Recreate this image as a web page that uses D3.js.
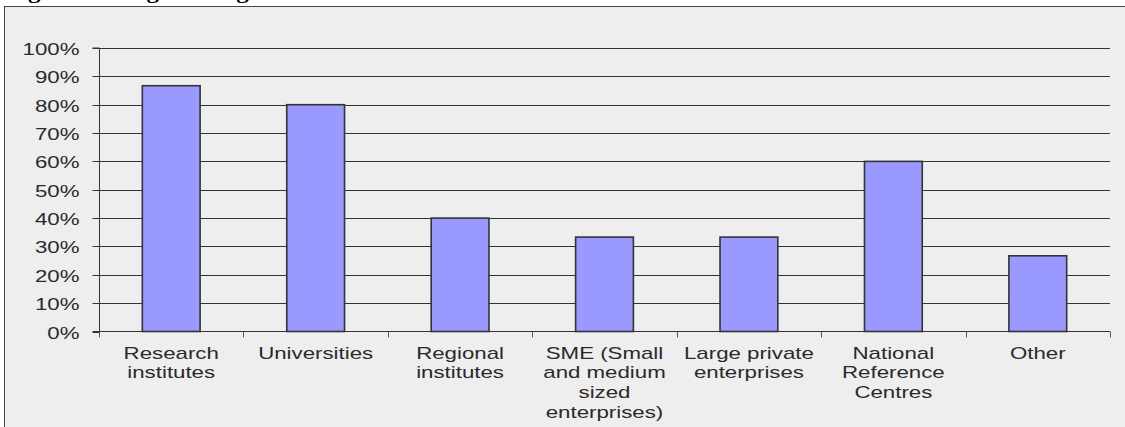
<!DOCTYPE html>
<html>
<head>
<meta charset="utf-8">
<script src="https://cdn.jsdelivr.net/npm/d3@7"></script>
<style>
  html, body { margin: 0; padding: 0; background: #ffffff; }
  svg { display: block; }
</style>
</head>
<body>
<div id="chart"></div>
<script>
// Share of responding organisations by type of origin
const categories = [
  "Research\ninstitutes",
  "Universities",
  "Regional\ninstitutes",
  "SME (Small\nand medium\nsized\nenterprises)",
  "Large private\nenterprises",
  "National\nReference\nCentres",
  "Other"
];
const shares = [0.867, 0.80, 0.40, 0.333, 0.333, 0.60, 0.267];
const yTicks = [0, 0.1, 0.2, 0.3, 0.4, 0.5, 0.6, 0.7, 0.8, 0.9, 1.0];
const captionText = "Figure 3: Origin of organisations";

const W = 1125, H = 427;
const plot = { left: 99, right: 1110, top: 48, bottom: 331.5 };
const stretch = 1.31;   // text is drawn horizontally widened
const font = "'Liberation Sans', Arial, Helvetica, sans-serif";

const svg = d3.select("#chart").append("svg")
  .attr("width", W).attr("height", H);

// caption above the frame (only its descenders fall inside the view)
svg.append("text")
  .attr("transform", `translate(6,-0.8) scale(${stretch},1)`)
  .attr("font-family", "'Liberation Serif', 'Times New Roman', serif")
  .attr("font-weight", "bold")
  .attr("font-size", 19)
  .attr("fill", "#000")
  .text(captionText);

// chart frame
svg.append("rect")
  .attr("x", 4.5).attr("y", 6.5)
  .attr("width", W + 10).attr("height", H + 10)
  .attr("fill", "#eeeeee")
  .attr("stroke", "#444").attr("stroke-width", 1);

const x = d3.scaleBand()
  .domain(categories)
  .range([plot.left, plot.right])
  .paddingInner(0.6)
  .paddingOuter(0.3);

const y = d3.scaleLinear().domain([0, 1]).range([plot.bottom, plot.top]);

// horizontal gridlines
svg.append("g")
  .selectAll("line")
  .data(yTicks.filter(d => d > 0))
  .join("line")
  .attr("x1", plot.left).attr("x2", plot.right)
  .attr("y1", d => Math.round(y(d)) + 0.5)
  .attr("y2", d => Math.round(y(d)) + 0.5)
  .attr("stroke", "#333").attr("stroke-width", 1);

// y axis
const yAxis = d3.axisLeft(y)
  .tickValues(yTicks)
  .tickFormat(d3.format(".0%"))
  .tickSize(7)
  .tickPadding(0)
  .offset(0);
const gy = svg.append("g")
  .attr("transform", `translate(${plot.left + 0.5},0)`)
  .call(yAxis);
gy.select(".domain").attr("stroke", "#333").attr("d", `M-7,${plot.top}H0V${plot.bottom}H-7`);
gy.selectAll(".tick line").attr("stroke", "#333");
gy.selectAll(".tick").attr("transform", d => `translate(0,${Math.round(y(d)) + 0.5})`);
gy.selectAll(".tick text")
  .attr("x", null).attr("dy", null)
  .attr("transform", `translate(-20,6) scale(${stretch},1)`)
  .attr("text-anchor", "end")
  .attr("font-family", font)
  .attr("font-size", 17)
  .attr("fill", "#2a2a2a");

// bars
svg.append("g")
  .selectAll("rect")
  .data(categories.map((c, i) => ({ c, v: shares[i] })))
  .join("rect")
  .attr("x", d => x(d.c))
  .attr("width", x.bandwidth())
  .attr("y", d => y(d.v))
  .attr("height", d => y(0) - y(d.v))
  .attr("fill", "#9999ff")
  .attr("stroke", "#333").attr("stroke-width", 1.6);

// x axis: baseline and category boundary ticks
const xb = d3.scaleLinear().domain([0, categories.length]).range([plot.left, plot.right]);
const gx = svg.append("g");
gx.append("line")
  .attr("x1", plot.left).attr("x2", plot.right)
  .attr("y1", plot.bottom).attr("y2", plot.bottom)
  .attr("stroke", "#333").attr("stroke-width", 1);
gx.selectAll("line.tick")
  .data(d3.range(categories.length + 1))
  .join("line")
  .attr("class", "tick")
  .attr("x1", d => Math.round(xb(d)) + 0.5).attr("x2", d => Math.round(xb(d)) + 0.5)
  .attr("y1", plot.bottom).attr("y2", plot.bottom + 6)
  .attr("stroke", "#555").attr("stroke-width", 1);

// category labels
const labels = svg.append("g")
  .selectAll("text")
  .data(categories)
  .join("text")
  .attr("transform", d => `translate(${x(d) + x.bandwidth() / 2},358.5) scale(${stretch},1)`)
  .attr("text-anchor", "middle")
  .attr("font-family", font)
  .attr("font-size", 17)
  .attr("fill", "#2a2a2a");
labels.selectAll("tspan")
  .data(d => d.split("\n"))
  .join("tspan")
  .attr("x", 0)
  .attr("y", (d, i) => i * 20)
  .text(d => d);
</script>
</body>
</html>
